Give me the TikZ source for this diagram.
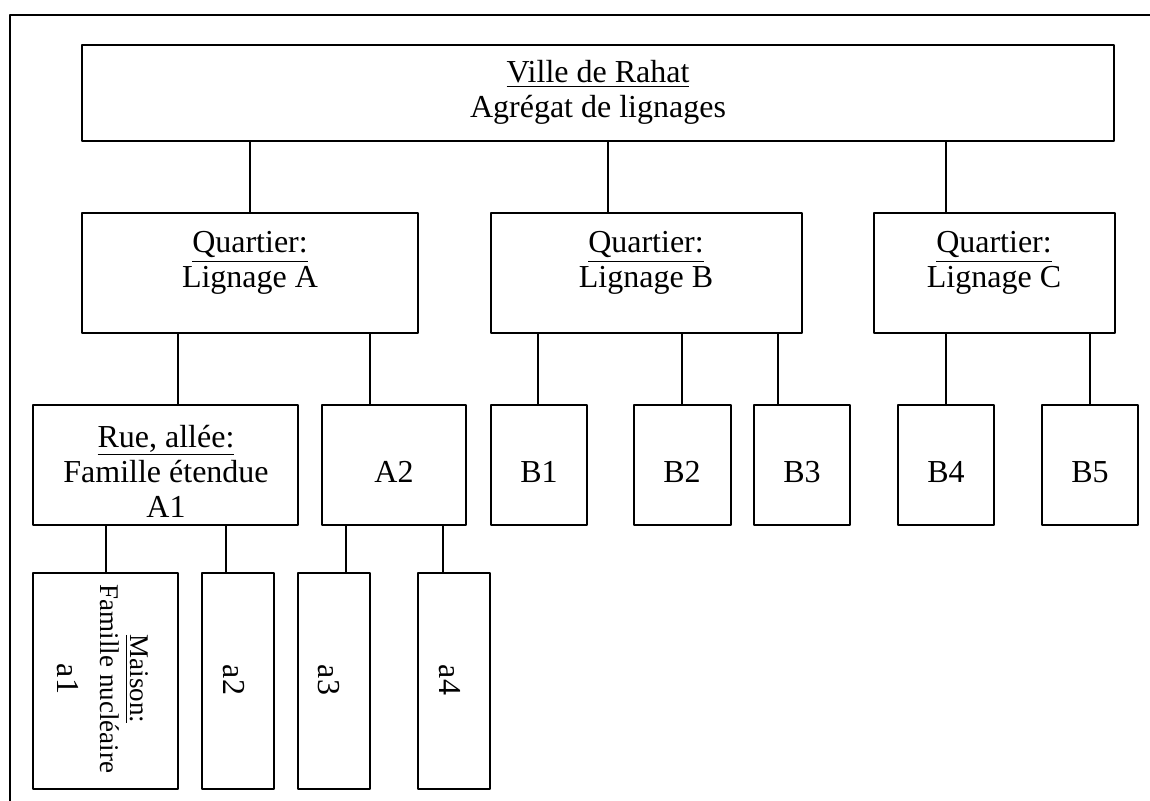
\documentclass[tikz,border=0pt]{standalone}
\usepackage{fontspec}
\setmainfont{Liberation Serif}
\usetikzlibrary{fit}
\begin{document}
\begin{tikzpicture}[x=0.5pt,y=-0.5pt,line join=round,
  box/.style={draw,line width=0.7pt,inner sep=0pt,outer sep=0pt},
  txt/.style={align=center,inner sep=0pt,font=\fontsize{16pt}{17.5pt}\selectfont},
  small/.style={align=center,inner sep=0pt,font=\fontsize{13.5pt}{15pt}\selectfont},
  link/.style={line width=0.6pt}]
\useasboundingbox (0,0) rectangle (1150,801);
\draw[line width=0.85pt] (10,801) -- (10,15) -- (1150,15);
\node[box,fit={(82,45) (1114,141)}] (ville) {};
\node[box,fit={(82,213) (418,333)}] (qa) {};
\node[box,fit={(491,213) (802,333)}] (qb) {};
\node[box,fit={(874,213) (1115,333)}] (qc) {};
\node[box,fit={(33,405) (298,525)}] (rA1) {};
\node[box,fit={(322,405) (466,525)}] (rA2) {};
\node[box,fit={(491,405) (587,525)}] (rB1) {};
\node[box,fit={(634,405) (731,525)}] (rB2) {};
\node[box,fit={(754,405) (850,525)}] (rB3) {};
\node[box,fit={(898,405) (994,525)}] (rB4) {};
\node[box,fit={(1042,405) (1138,525)}] (rB5) {};
\node[box,fit={(33,573) (178,789)}] (ma1) {};
\node[box,fit={(202,573) (274,789)}] (ma2) {};
\node[box,fit={(298,573) (370,789)}] (ma3) {};
\node[box,fit={(418,573) (490,789)}] (ma4) {};
\node[txt,anchor=base] (villet) at (598,118) {\underline{Ville de Rahat}\\Agrégat de lignages};
\node[txt,anchor=base] (qat) at (250,288) {\underline{Quartier:}\\Lignage A};
\node[txt,anchor=base] (qbt) at (646,288) {\underline{Quartier:}\\Lignage B};
\node[txt,anchor=base] (qct) at (994,288) {\underline{Quartier:}\\Lignage C};
\node[txt,anchor=base] (rA1t) at (166,517) {\underline{Rue, allée:}\\Famille étendue\\A1};
\node[txt,anchor=base] (rA2t) at (394,482) {A2};
\node[txt,anchor=base] (rB1t) at (539,482) {B1};
\node[txt,anchor=base] (rB2t) at (682,482) {B2};
\node[txt,anchor=base] (rB3t) at (802,482) {B3};
\node[txt,anchor=base] (rB4t) at (946,482) {B4};
\node[txt,anchor=base] (rB5t) at (1090,482) {B5};
\node[small,anchor=base,rotate=-90] (ma1t) at (57,679) {\underline{Maison:}\\Famille nucléaire\\[6.5pt]{\fontsize{16pt}{17.5pt}\selectfont a1}};
\node[txt,anchor=base,rotate=-90] (ma2t) at (223,680) {a2};
\node[txt,anchor=base,rotate=-90] (ma3t) at (318,680) {a3};
\node[txt,anchor=base,rotate=-90] (ma4t) at (439,680) {a4};
\draw[link] (250,0 |- ville.south) -- (250,0 |- qa.north);
\draw[link] (608,0 |- ville.south) -- (608,0 |- qb.north);
\draw[link] (946,0 |- ville.south) -- (946,0 |- qc.north);
\draw[link] (178,0 |- qa.south) -- (178,0 |- rA1.north);
\draw[link] (370,0 |- qa.south) -- (370,0 |- rA2.north);
\draw[link] (538,0 |- qb.south) -- (538,0 |- rB1.north);
\draw[link] (682,0 |- qb.south) -- (682,0 |- rB2.north);
\draw[link] (778,0 |- qb.south) -- (778,0 |- rB3.north);
\draw[link] (946,0 |- qc.south) -- (946,0 |- rB4.north);
\draw[link] (1090,0 |- qc.south) -- (1090,0 |- rB5.north);
\draw[link] (106,0 |- rA1.south) -- (106,0 |- ma1.north);
\draw[link] (226,0 |- rA1.south) -- (226,0 |- ma2.north);
\draw[link] (346,0 |- rA2.south) -- (346,0 |- ma3.north);
\draw[link] (443,0 |- rA2.south) -- (443,0 |- ma4.north);
\end{tikzpicture}
\end{document}
